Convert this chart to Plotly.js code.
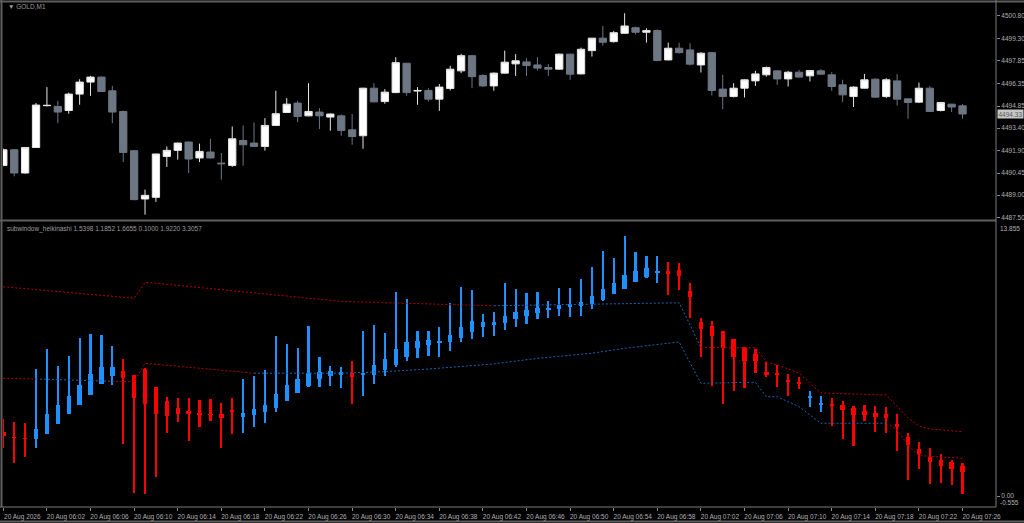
<!DOCTYPE html>
<html>
<head>
<meta charset="utf-8">
<script src="https://cdn.plot.ly/plotly-3.0.1.min.js"></script>
<style>
  html, body { margin: 0; padding: 0; background: #000; }
  #chart { width: 1024px; height: 523px; }
</style>
</head>
<body>
<div id="chart"></div>
<script>
// GOLD,M1 candles (top window)
var open  = [4490.95,4491.98,4490.45,4492.13,4494.88,4494.83,4494.56,4495.64,4496.43,4496.76,
             4495.86,4494.50,4491.92,4488.74,4488.85,4491.54,4491.94,4492.49,4491.44,4491.83,
             4491.10,4490.95,4492.59,4492.42,4492.20,4493.58,4494.43,4495.05,4494.21,4494.46,
             4494.13,4494.21,4493.29,4492.90,4496.03,4495.15,4495.74,4497.67,4495.84,4495.88,
             4495.31,4496.01,4497.17,4498.17,4496.86,4496.18,4497.02,4497.63,4497.76,4497.56,
             4497.39,4497.28,4498.27,4496.97,4498.50,4499.32,4499.09,4499.64,4500.01,4499.71,
             4499.82,4497.89,4498.66,4498.55,4497.56,4498.37,4495.97,4495.48,4496.03,4496.51,
             4496.91,4497.17,4496.64,4497.08,4496.84,4497.17,4496.91,4496.25,4495.48,4496.03,
             4496.62,4495.48,4496.51,4495.33,4495.11,4496.03,4494.56,4494.98,4494.87];
var high  = [4492.05,4492.02,4492.16,4495.05,4496.10,4495.20,4495.74,4496.62,4496.84,4496.80,
             4496.18,4494.55,4491.95,4489.36,4491.72,4492.20,4492.45,4492.52,4492.38,4492.70,
             4491.77,4493.51,4493.58,4493.77,4494.06,4495.86,4495.38,4495.20,4496.36,4494.72,
             4494.36,4494.30,4494.33,4496.06,4496.36,4495.97,4498.07,4497.70,4496.10,4496.03,
             4496.30,4497.50,4498.29,4498.22,4496.95,4497.06,4498.50,4498.27,4498.00,4498.07,
             4497.61,4498.30,4498.29,4498.70,4499.33,4500.12,4499.80,4500.96,4500.08,4499.97,
             4499.90,4499.03,4499.03,4498.99,4498.40,4498.42,4496.91,4496.36,4496.62,4497.17,
             4497.45,4497.20,4497.17,4497.23,4497.22,4497.28,4497.08,4496.58,4496.15,4496.97,
             4496.69,4496.69,4496.97,4495.35,4496.40,4496.18,4495.12,4495.00,4494.98];
var low   = [4490.90,4490.23,4490.40,4492.10,4494.83,4493.73,4494.35,4494.94,4495.53,4495.78,
             4493.73,4491.17,4488.65,4487.71,4488.55,4490.85,4491.33,4490.45,4491.17,4491.40,
             4490.01,4490.85,4490.93,4492.18,4491.92,4493.55,4494.40,4493.80,4494.18,4493.34,
             4493.23,4492.90,4492.31,4492.05,4495.10,4495.00,4495.70,4495.53,4494.94,4495.15,
             4494.54,4495.88,4497.02,4496.03,4496.10,4495.86,4497.00,4496.84,4496.84,4497.19,
             4496.84,4497.25,4496.58,4496.94,4498.11,4498.83,4499.03,4499.62,4499.58,4499.03,
             4497.80,4497.85,4498.30,4497.52,4497.06,4495.55,4494.65,4495.42,4495.42,4496.18,
             4496.79,4496.25,4496.14,4496.72,4496.47,4496.92,4495.86,4495.11,4494.79,4496.00,
             4495.40,4495.38,4494.89,4494.02,4495.05,4494.48,4494.50,4494.46,4494.02];
var close = [4491.98,4490.45,4492.13,4494.92,4494.90,4494.46,4495.64,4496.43,4496.76,4495.81,
             4494.46,4491.80,4488.70,4488.98,4491.70,4491.94,4492.42,4491.37,4491.87,4491.44,
             4491.06,4492.70,4492.31,4492.20,4493.58,4494.35,4494.98,4494.17,4494.50,4494.21,
             4494.33,4493.25,4492.85,4496.03,4495.13,4495.77,4497.71,4495.74,4495.88,4495.31,
             4496.10,4497.28,4498.17,4496.79,4496.18,4497.02,4497.74,4497.83,4497.52,4497.35,
             4497.28,4498.27,4496.95,4498.59,4499.32,4499.05,4499.68,4500.12,4499.71,4499.82,
             4497.85,4498.66,4498.37,4497.61,4498.33,4495.88,4495.48,4496.03,4496.58,4496.97,
             4497.39,4496.64,4497.08,4496.76,4497.19,4496.95,4496.14,4495.59,4496.10,4496.58,
             4495.44,4496.58,4495.31,4495.09,4496.03,4494.50,4495.09,4494.79,4494.33];

// subwindow_heikinashi bars
var haOpen  = [3.24,3.00,2.95,2.88,3.14,3.66,4.14,4.61,5.12,5.66,6.08,6.32,6.11,6.42,5.52,4.80,4.44,4.30,4.18,4.15,
               4.13,4.35,4.01,4.10,4.23,4.44,4.81,5.20,5.54,5.90,6.08,6.12,6.21,6.12,6.12,6.37,6.62,7.04,7.47,7.64,
               7.75,7.80,7.97,8.31,8.56,8.65,8.76,8.94,9.10,9.27,9.41,9.46,9.57,9.61,9.72,9.91,10.21,10.48,10.82,11.09,
               11.29,11.38,11.43,10.37,8.78,8.61,8.33,7.93,7.50,7.17,6.26,6.21,5.87,5.77,4.96,4.60,4.65,4.60,4.46,4.31,
               4.21,4.15,3.64,3.00,2.36,1.99,1.82,1.71,1.53];
var haHigh  = [3.89,3.76,3.71,6.41,7.43,6.57,7.08,8.00,8.19,8.14,7.59,6.93,6.12,6.46,5.53,5.02,4.97,4.94,4.86,4.89,
               4.69,4.97,5.92,6.08,6.37,8.11,7.69,7.50,8.60,7.01,6.57,6.51,6.84,8.34,8.65,8.23,10.33,9.96,8.36,8.34,
               8.56,9.74,10.58,10.42,9.20,9.32,10.76,10.47,10.25,10.33,9.86,10.50,10.50,10.96,11.60,12.39,12.02,13.16,12.35,12.15,
               12.14,11.85,11.78,10.76,9.02,8.85,8.34,7.94,7.52,7.43,6.79,6.63,6.15,6.00,5.31,5.06,4.97,4.80,4.55,4.60,
               4.55,4.52,4.15,3.17,2.72,2.41,2.11,1.82,1.65];
var haLow   = [2.41,1.69,1.96,2.41,3.12,3.64,4.13,4.60,5.11,5.65,5.61,2.62,0.14,0.09,0.98,3.20,3.76,2.80,3.51,3.79,
               2.41,3.14,3.17,3.51,3.68,4.26,4.80,5.19,5.53,5.53,5.56,5.48,4.65,5.07,5.65,6.07,6.54,6.84,6.96,7.10,
               7.01,7.35,7.80,7.94,8.06,8.11,8.39,8.56,8.70,8.95,8.99,9.12,9.07,9.10,9.44,9.86,10.20,10.47,10.81,11.04,
               10.79,10.16,10.42,8.99,7.04,5.58,4.65,5.31,5.48,6.21,6.03,5.50,5.07,5.41,4.52,4.26,3.56,2.88,2.54,3.79,
               3.22,3.17,2.29,0.81,1.37,0.61,0.64,0.56,0.09];
var haClose = [3.03,2.92,2.87,3.37,4.15,4.60,5.06,5.61,6.17,6.54,6.51,5.95,4.94,4.65,4.13,4.06,4.15,4.13,4.10,4.10,
               3.93,4.25,4.21,4.39,4.60,5.14,5.61,5.92,6.24,6.29,6.32,6.29,6.03,6.24,6.62,6.93,7.43,7.80,7.84,7.89,
               7.85,8.14,8.56,8.85,8.81,8.81,9.10,9.29,9.41,9.49,9.52,9.66,9.69,9.80,10.13,10.47,10.76,11.18,11.39,11.51,
               11.39,11.21,11.12,10.08,8.45,8.11,7.47,7.04,6.84,6.83,6.12,6.10,5.78,5.66,5.06,4.69,4.55,4.35,4.10,4.10,
               4.01,3.93,3.51,2.58,2.12,1.74,1.53,1.37,1.20];

// band lines: vertex bar index, value, colour of segment to next vertex
var upT   = [0,12,13,31,45,62,63,64,69,70,71,73,75,81,83,84,85,88];
var upV   = [10.58,10.00,10.81,9.84,9.62,9.77,8.65,7.50,7.50,6.79,6.63,6.22,5.21,5.11,3.95,3.54,3.39,3.25];
var upCol = ['r','r','r','r','b','b','b','r','r','r','r','r','r','r','r','r','r'];
var loT   = [0,3,10,12,13,23,31,35,39,45,49,54,57,62,63,64,69,70,71,73,75,81,82,83,84,88];
var loV   = [5.95,5.92,5.80,5.78,6.71,6.21,6.21,6.29,6.42,6.68,6.96,7.22,7.47,7.79,6.78,5.70,5.75,5.02,5.02,4.52,3.68,3.68,3.34,2.58,2.04,1.91];
var loCol = ['r','b','r','r','r','b','b','b','b','b','b','b','b','b','b','b','b','b','b','b','b','r','r','r','r'];

var priceTicks = [4500.80,4499.30,4497.85,4496.35,4494.85,4493.40,4491.90,4490.45,4489.00,4487.50];
var timeTicks = [0,4,8,12,16,20,24,28,32,36,40,44,48,52,56,60,64,68,72,76,80,84,88];
var timeLabels = ['20 Aug 2026','20 Aug 06:02','20 Aug 06:06','20 Aug 06:10','20 Aug 06:14','20 Aug 06:18',
                  '20 Aug 06:22','20 Aug 06:26','20 Aug 06:30','20 Aug 06:34','20 Aug 06:38','20 Aug 06:42',
                  '20 Aug 06:46','20 Aug 06:50','20 Aug 06:54','20 Aug 06:58','20 Aug 07:02','20 Aug 07:06',
                  '20 Aug 07:10','20 Aug 07:14','20 Aug 07:18','20 Aug 07:22','20 Aug 07:26'];
var lastPrice = 4494.33;
var subLabel = 'subwindow_heikinashi 1.5398 1.1852 1.6655 0.1000 1.9220 3.3057';

var bars = open.map(function(v, i) { return i; });
var RED = '#ff0000', BLUE = '#1e90ff';
var lineCol = { r: '#b40000', b: '#1c64b4' };
var txt = '#b0b0b0';
var fnt = 'Liberation Sans, Arial, sans-serif';

function bandTraces(ts, vs, cols) {
  var seg = { r: { x: [], y: [] }, b: { x: [], y: [] } };
  for (var i = 0; i < ts.length - 1; i++) {
    var s = seg[cols[i]];
    var n = s.x.length;
    if (n && s.x[n - 1] !== ts[i]) { s.x.push(null); s.y.push(null); }
    if (!s.x.length || s.x[s.x.length - 1] !== ts[i]) { s.x.push(ts[i]); s.y.push(vs[i]); }
    s.x.push(ts[i + 1]); s.y.push(vs[i + 1]);
  }
  return ['r', 'b'].map(function(k) {
    return { type: 'scatter', mode: 'lines', x: seg[k].x, y: seg[k].y, xaxis: 'x', yaxis: 'y2',
             line: { color: lineCol[k], width: 1, dash: '2px,2px' }, connectgaps: false, hoverinfo: 'skip' };
  });
}

var haCol = haOpen.map(function(o, i) { return haClose[i] >= o ? BLUE : RED; });

var data = [
  {
    type: 'candlestick', x: bars, open: open, high: high, low: low, close: close,
    xaxis: 'x', yaxis: 'y',
    increasing: { line: { color: '#e6e6e6', width: 1 }, fillcolor: '#ffffff' },
    decreasing: { line: { color: '#6d7683', width: 1 }, fillcolor: '#6d7683' },
    whiskerwidth: 0, hoverinfo: 'skip'
  },
  {
    type: 'bar', x: bars, base: haLow, y: haHigh.map(function(h, i) { return h - haLow[i]; }),
    xaxis: 'x', yaxis: 'y2', width: 0.2, marker: { color: haCol }, hoverinfo: 'skip'
  },
  {
    type: 'bar', x: bars,
    base: haOpen.map(function(o, i) { return Math.min(o, haClose[i]); }),
    y: haOpen.map(function(o, i) { return Math.abs(haClose[i] - o); }),
    xaxis: 'x', yaxis: 'y2', width: 0.4, marker: { color: haCol }, hoverinfo: 'skip'
  }
].concat(bandTraces(upT, upV, upCol), bandTraces(loT, loV, loCol));

function py(p) { return 1 - p / 523; }
function px(p) { return p / 1024; }
var frame = '#5e5e5e';

var layout = {
  width: 1024, height: 523,
  margin: { l: 0, r: 0, t: 0, b: 0 },
  paper_bgcolor: '#000', plot_bgcolor: '#000',
  showlegend: false,
  barmode: 'overlay', bargap: 0,
  boxgap: 0.33, boxgroupgap: 0,
  font: { family: fnt, size: 6.5, color: txt },
  xaxis: {
    domain: [px(3), px(996)], range: [-0.03, 91.07], anchor: 'y2',
    tickvals: timeTicks, ticktext: timeLabels, ticks: 'outside', ticklen: 3, tickcolor: '#8a8a8a',
    ticklabelshift: 19, tickfont: { family: fnt, size: 6.5, color: txt },
    showgrid: false, zeroline: false, showline: false,
    rangeslider: { visible: false }, fixedrange: true
  },
  yaxis: {
    domain: [py(218), py(3)], range: [4487.49, 4501.634], anchor: 'x', side: 'right',
    tickvals: priceTicks, tickformat: '.2f', ticks: 'outside', ticklen: 3, tickcolor: '#8a8a8a',
    tickfont: { family: fnt, size: 6.5, color: txt },
    showgrid: false, zeroline: false, showline: false, fixedrange: true
  },
  yaxis2: {
    domain: [py(507), py(222)], range: [-0.555, 13.855], anchor: 'x', side: 'right',
    tickvals: [0], ticktext: ['0.00'], ticks: 'outside', ticklen: 3, tickcolor: '#8a8a8a',
    tickfont: { family: fnt, size: 6.5, color: txt },
    showgrid: false, zeroline: false, showline: false, fixedrange: true
  },
  shapes: [
    { type: 'line', xref: 'paper', yref: 'paper', x0: 0, x1: 1, y0: py(1.5), y1: py(1.5), line: { color: frame, width: 2 } },
    { type: 'line', xref: 'paper', yref: 'paper', x0: px(1.5), x1: px(1.5), y0: py(507), y1: 1, line: { color: frame, width: 2 } },
    { type: 'line', xref: 'paper', yref: 'paper', x0: 0, x1: px(996), y0: py(220.5), y1: py(220.5), line: { color: frame, width: 2 } },
    { type: 'line', xref: 'paper', yref: 'paper', x0: px(996), x1: px(996), y0: py(507), y1: 1, line: { color: '#7a7a7a', width: 1 } },
    { type: 'line', xref: 'paper', yref: 'paper', x0: 0, x1: px(996), y0: py(507), y1: py(507), line: { color: '#7a7a7a', width: 1 } },
    { type: 'line', xref: 'paper', yref: 'paper', x0: 0, x1: 1, y0: py(521.5), y1: py(521.5), line: { color: frame, width: 2 } }
  ],
  annotations: [
    { xref: 'paper', yref: 'paper', x: px(6), y: py(7), xanchor: 'left', yanchor: 'middle', showarrow: false,
      text: '\u25BC GOLD,M1', font: { family: fnt, size: 6.5, color: '#9c9c9c' } },
    { xref: 'paper', yref: 'paper', x: px(5), y: py(229), xanchor: 'left', yanchor: 'middle', showarrow: false,
      text: subLabel, font: { family: fnt, size: 6.5, color: '#9c9c9c' } },
    { xref: 'paper', yref: 'y', x: px(997), y: lastPrice, xanchor: 'left', yanchor: 'middle', showarrow: false,
      text: lastPrice.toFixed(2), bgcolor: '#c6c6c6', borderpad: 0.5,
      font: { family: fnt, size: 6.5, color: '#5a5a5a' } },
    { xref: 'paper', yref: 'y2', x: px(998), y: 13.855, xanchor: 'left', yanchor: 'top', yshift: -1, showarrow: false,
      text: '13.855', font: { family: fnt, size: 6.5, color: txt } },
    { xref: 'paper', yref: 'y2', x: px(998), y: -0.555, xanchor: 'left', yanchor: 'bottom', yshift: -1, showarrow: false,
      text: '-0.555', font: { family: fnt, size: 6.5, color: txt } }
  ]
};

Plotly.newPlot(document.getElementById('chart'), data, layout, { staticPlot: true, displayModeBar: false });
</script>
</body>
</html>
